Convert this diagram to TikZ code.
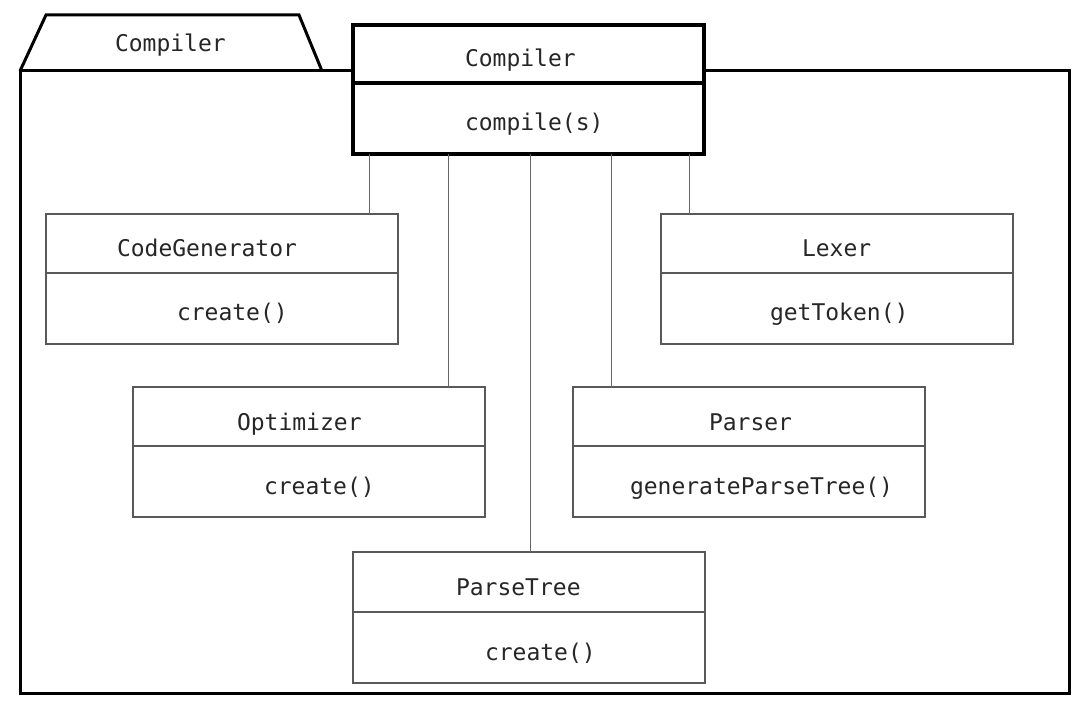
\documentclass[tikz,border=0pt]{standalone}
\usepackage{fontspec}
\setmonofont{DejaVu Sans Mono}
\tikzset{
  lbl/.style={anchor=base west,inner sep=0pt,outer sep=0pt,font=\ttfamily\fontsize{23}{28}\selectfont,text=black!85},
  cbox/.style={rectangle,draw=black!65,line width=1.3pt,fill=white,minimum width=352pt,inner sep=0pt,outer sep=0pt,anchor=north west},
  mainbox/.style={cbox,draw=black,line width=4pt,minimum width=351pt},
  conn/.style={draw=black!60,line width=1pt},
  pkgline/.style={draw=black,line width=3pt,line join=miter},
}
\newcommand\umlcls[9]{%
  \node[cbox,minimum height={#4-#3}] (#1-top) at (#2,#3) {};
  \node[cbox,minimum height={#5-#4}] (#1-bot) at (#2,#4) {};
  \node[lbl] (#1-name) at (#6,#3+43) {#8};
  \node[lbl] (#1-meth) at (#7,#4+48) {#9};
}
\begin{document}
\begin{tikzpicture}[x=1pt,y=-1pt]
\useasboundingbox[fill=white] (0,0) rectangle (1089,708);
% package tab and frame
\coordinate (tabbl) at (20,71);
\coordinate (tabtl) at (46,15);
\coordinate (tabtr) at (299,15);
\coordinate (tabbr) at (322,71);
\draw[pkgline] (tabbl) -- (tabtl) -- (tabtr) -- (tabbr);
\node[pkgline,rectangle,anchor=north west,minimum width=1049pt,minimum height=622pt,inner sep=0pt,outer sep=0pt] (pkg) at (20,71) {};
\node[lbl] (tablbl) at (115,52) {Compiler};
% main Compiler class
\node[mainbox,minimum height=58pt] (comp-top) at (353,25) {};
\node[mainbox,minimum height=71pt] (comp-bot) at (353,83) {};
\node[lbl] (comp-name) at (465,67) {Compiler};
\node[lbl] (comp-meth) at (465,131) {compile(s)};
% classes
\umlcls{cg}{46}{214}{273}{344}{117}{177}{CodeGenerator}{create()}
\umlcls{lx}{661}{214}{273}{344}{802}{770}{Lexer}{getToken()}
\umlcls{op}{133}{387}{446}{517}{237}{264}{Optimizer}{create()}
\umlcls{pa}{573}{387}{446}{517}{709}{630}{Parser}{generateParseTree()}
\umlcls{pt}{353}{552}{612}{683}{456}{485}{ParseTree}{create()}
% connector end points on class tops
\coordinate (cgc) at (369,214);
\coordinate (opc) at (448,387);
\coordinate (ptc) at (530,552);
\coordinate (pac) at (611,387);
\coordinate (lxc) at (689,214);
\draw[conn] (comp-bot.south -| cgc) -- (cgc);
\draw[conn] (comp-bot.south -| opc) -- (opc);
\draw[conn] (comp-bot.south -| ptc) -- (ptc);
\draw[conn] (comp-bot.south -| pac) -- (pac);
\draw[conn] (comp-bot.south -| lxc) -- (lxc);
\end{tikzpicture}
\end{document}
